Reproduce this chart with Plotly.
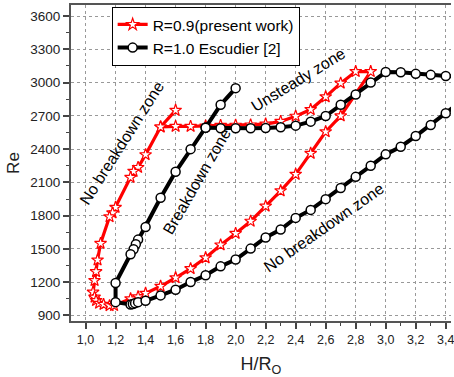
import plotly.graph_objects as go

# R=0.9 (present work) – path order
red_x = [1.60, 1.50, 1.40, 1.35, 1.32, 1.30, 1.20, 1.18, 1.16, 1.10, 1.08, 1.07, 1.06, 1.05,
         1.06, 1.07, 1.09, 1.12, 1.16, 1.19,
         1.30, 1.35, 1.40, 1.50, 1.60, 1.70, 1.80, 1.90, 2.00, 2.10, 2.20, 2.30, 2.40, 2.50, 2.60, 2.70, 2.90,
         2.80, 2.70, 2.60, 2.50, 2.40, 2.30, 2.20, 2.10, 2.00, 1.90, 1.80, 1.70, 1.60, 1.50]
red_y = [2750, 2600, 2350, 2235, 2200, 2145, 1875, 1825, 1790, 1550, 1400, 1295, 1215, 1110,
         1065, 1035, 1010, 1000, 988, 990,
         1050, 1068, 1100, 1163, 1240, 1322, 1420, 1536, 1640, 1750, 1886, 2024, 2173, 2362, 2557, 2700, 3100,
         3100, 2995, 2872, 2757, 2697, 2650, 2626, 2618, 2616, 2614, 2608, 2605, 2605, 2600]

# R=1.0 Escudier [2] – two segments separated by a gap
blk_x = [2.00, 1.90, 1.80, 1.70, 1.60, 1.50, 1.40, 1.35, 1.335, 1.32, 1.30, 1.20, 1.20,
         1.30, 1.315, 1.33, 1.35, 1.40, 1.50, 1.60, 1.70, 1.80, 1.90, 2.00, 2.10, 2.20, 2.30,
         2.40, 2.50, 2.60, 2.70, 2.80, 2.90, 3.00, 3.10, 3.20, 3.30, 3.40, 3.50,
         None,
         1.80, 1.90, 2.00, 2.10, 2.20, 2.30, 2.40, 2.50, 2.60, 2.70, 2.80, 2.90, 3.00, 3.10,
         3.20, 3.30, 3.40, 3.50]
blk_y = [2950, 2800, 2595, 2400, 2196, 1961, 1698, 1584, 1542, 1497, 1452, 1192, 1020,
         999, 1004, 1011, 1020, 1032, 1081, 1132, 1201, 1262, 1343, 1404, 1503, 1603, 1675,
         1780, 1852, 1949, 2050, 2150, 2250, 2353, 2422, 2518, 2618, 2724, 2830,
         None,
         2592, 2588, 2588, 2588, 2591, 2597, 2612, 2648, 2699, 2800, 2893, 3000, 3095, 3093,
         3079, 3070, 3060, 3050]

x_tick_vals = [1.0, 1.2, 1.4, 1.6, 1.8, 2.0, 2.2, 2.4, 2.6, 2.8, 3.0, 3.2, 3.4]
x_tick_text = ["1,0", "1,2", "1,4", "1,6", "1,8", "2,0", "2,2", "2,4", "2,6", "2,8", "3,0", "3,2", "3,4"]
y_tick_vals = [900, 1200, 1500, 1800, 2100, 2400, 2700, 3000, 3300, 3600]

zone_labels = ["No breakdown zone", "Breakdown zone", "Unsteady zone", "No breakdown zone"]
zone_x = [1.24, 1.74, 2.42, 2.59]
zone_y = [2450, 2110, 3025, 1690]
zone_angle = [-57.5, -60, -31.5, -35]

FONT = "Arial, Liberation Sans, sans-serif"

fig = go.Figure()
fig.add_trace(go.Scatter(
    x=red_x, y=red_y, mode="lines+markers", name="R=0.9(present work)",
    line=dict(color="#ff0000", width=3.2),
    marker=dict(symbol="star", size=9, color="white", line=dict(color="#ff0000", width=1.2)),
))
fig.add_trace(go.Scatter(
    x=blk_x, y=blk_y, mode="lines+markers", name="R=1.0 Escudier [2]", connectgaps=False,
    line=dict(color="black", width=4),
    marker=dict(symbol="circle", size=9, color="white", line=dict(color="black", width=1.5)),
))

for t, x, y, a in zip(zone_labels, zone_x, zone_y, zone_angle):
    fig.add_annotation(x=x, y=y, text=t, textangle=a, showarrow=False,
                       font=dict(family=FONT, size=16, color="black"))

fig.update_layout(
    width=454, height=377,
    margin=dict(l=71, r=0, t=5, b=56),
    paper_bgcolor="white", plot_bgcolor="white",
    font=dict(family=FONT, size=12, color="#222"),
    showlegend=True,
    legend=dict(x=0.107, y=0.994, xanchor="left", yanchor="top",
                bgcolor="white", bordercolor="black", borderwidth=1,
                font=dict(family=FONT, size=15.5, color="black"),
                tracegroupgap=0, itemwidth=30),
)
fig.update_xaxes(
    range=[0.903, 3.435], tickmode="array", tickvals=x_tick_vals, ticktext=x_tick_text,
    ticklabeloverflow="allow",
    ticks="outside", ticklen=6, tickwidth=1.5, tickcolor="#444",
    showline=True, linecolor="#555", linewidth=2, mirror=True,
    showgrid=True, gridcolor="#999", griddash="dot", gridwidth=1, zeroline=False,
    minor=dict(tickmode="linear", tick0=0.9, dtick=0.1, ticks="outside", ticklen=3,
               tickwidth=1.2, tickcolor="#444", showgrid=False),
    tickfont=dict(family=FONT, size=12.5, color="#222"),
    title=dict(text="H/R<sub>O</sub>", font=dict(family=FONT, size=18, color="#222"), standoff=16),
)
fig.update_yaxes(
    range=[850, 3700], tickmode="array", tickvals=y_tick_vals,
    ticks="outside", ticklen=6, tickwidth=1.5, tickcolor="#444",
    showline=True, linecolor="#555", linewidth=2, mirror=False,
    showgrid=True, gridcolor="#999", griddash="dot", gridwidth=1, zeroline=False,
    minor=dict(tickmode="linear", tick0=750, dtick=150, ticks="outside", ticklen=3,
               tickwidth=1.2, tickcolor="#444", showgrid=False),
    tickfont=dict(family=FONT, size=13.5, color="#222"),
    title=dict(text="Re", font=dict(family=FONT, size=17, color="#222"), standoff=6),
)

fig.write_html("out.html")
